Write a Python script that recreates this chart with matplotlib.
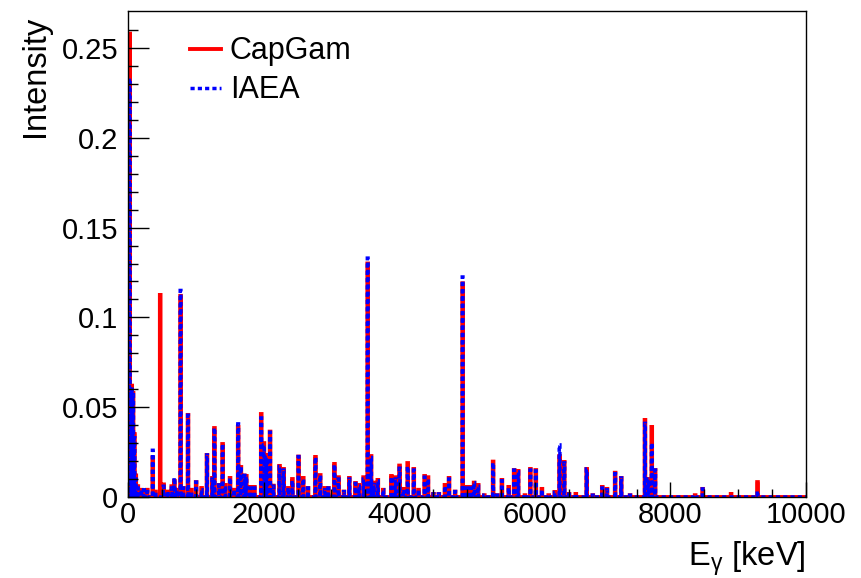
import matplotlib
matplotlib.use("Agg")
import matplotlib.pyplot as plt
from matplotlib.lines import Line2D
import numpy as np

plt.rcParams['font.family'] = ['Liberation Sans', 'DejaVu Sans']
plt.rcParams['mathtext.fontset'] = 'custom'
plt.rcParams['mathtext.rm'] = 'Liberation Sans'

# gamma lines: energy [keV], CapGam intensity, IAEA intensity
energia = [20, 50, 70, 90, 110, 140, 190, 230, 280, 360, 400, 478, 520, 580, 640, 680,
           720, 778, 810, 880, 930, 1000, 1080, 1160, 1245, 1275, 1340, 1395, 1430, 1505,
           1560, 1620, 1665, 1715, 1745, 1800, 1860, 1960, 2005, 2045, 2095, 2145, 2230,
           2290, 2365, 2425, 2512, 2585, 2650, 2760, 2830, 2900, 2950, 3040, 3100, 3180,
           3265, 3350, 3400, 3470, 3535, 3585, 3620, 3685, 3765, 3880, 3940, 4000, 4060,
           4125, 4215, 4280, 4370, 4420, 4500, 4580, 4675, 4735, 4820, 4937, 4995, 5050,
           5105, 5165, 5250, 5380, 5440, 5512, 5610, 5695, 5757, 5850, 5930, 6013, 6100,
           6200, 6298, 6362, 6430, 6500, 6600, 6765, 6850, 6996, 7060, 7183, 7272, 7400,
           7626, 7675, 7724, 7773, 8363, 8476, 8890, 9288]
capgam = [0.258, 0.062, 0.058, 0.035, 0.012, 0.006, 0.004, 0.003, 0.004, 0.022, 0.003, 0.1125,
          0.007, 0.003, 0.006, 0.009, 0.004, 0.112, 0.005, 0.0457, 0.004, 0.0083, 0.005,
          0.0234, 0.0106, 0.0384, 0.0067, 0.0295, 0.0067, 0.0106, 0.004, 0.039, 0.0167,
          0.012, 0.0117, 0.0056, 0.0056, 0.0462, 0.030, 0.0234, 0.0364, 0.0063, 0.0173,
          0.0156, 0.005, 0.010, 0.0225, 0.0106, 0.005, 0.0223, 0.0122, 0.005, 0.005, 0.0184,
          0.011, 0.003, 0.0106, 0.0078, 0.0067, 0.011, 0.130, 0.0228, 0.008, 0.0095, 0.004,
          0.0117, 0.011, 0.0175, 0.0045, 0.0189, 0.0156, 0.004, 0.0117, 0.011, 0.0017,
          0.0017, 0.0067, 0.0106, 0.003, 0.119, 0.0056, 0.0056, 0.008, 0.0067, 0.001,
          0.0197, 0.001, 0.0095, 0.0056, 0.015, 0.0145, 0.001, 0.0156, 0.015, 0.0045, 0.001,
          0.0028, 0.0228, 0.0195, 0.0017, 0.0017, 0.0156, 0.001, 0.0056, 0.0045, 0.0135,
          0.0106, 0.001, 0.0429, 0.010, 0.039, 0.015, 0.001, 0.0045, 0.0017, 0.0083]
iaea = [0.233, 0.060, 0.057, 0.033, 0.010, 0.005, 0.004, 0.004, 0.003, 0.026, 0.003, 0.0,
        0.006, 0.003, 0.005, 0.0106, 0.004, 0.115, 0.005, 0.0455, 0.003, 0.0083, 0.004,
        0.0234, 0.010, 0.0384, 0.0067, 0.0295, 0.006, 0.0106, 0.004, 0.0407, 0.0167,
        0.012, 0.0117, 0.005, 0.005, 0.044, 0.029, 0.022, 0.036, 0.006, 0.017,
        0.015, 0.005, 0.009, 0.0225, 0.010, 0.005, 0.022, 0.012, 0.004, 0.005, 0.018,
        0.010, 0.003, 0.010, 0.0075, 0.006, 0.010, 0.133, 0.022, 0.007, 0.009, 0.004,
        0.011, 0.010, 0.016, 0.004, 0.017, 0.015, 0.004, 0.011, 0.010, 0.0017,
        0.0017, 0.006, 0.010, 0.003, 0.1225, 0.005, 0.005, 0.008, 0.006, 0.001,
        0.019, 0.001, 0.009, 0.005, 0.015, 0.014, 0.001, 0.015, 0.0145, 0.004, 0.001,
        0.0025, 0.029, 0.019, 0.0015, 0.0015, 0.0156, 0.001, 0.005, 0.004, 0.013,
        0.0106, 0.001, 0.041, 0.010, 0.030, 0.015, 0.001, 0.0045, 0.0, 0.0033]

bordi = np.arange(0, 10001, 10)
h_capgam, _ = np.histogram(energia, bins=bordi, weights=capgam)
h_iaea, _ = np.histogram(energia, bins=bordi, weights=iaea)

fig = plt.figure(figsize=(8.61, 5.78), dpi=100)
ax = fig.add_axes([128/861, 81/578, 678/861, 486/578])

ax.stairs(h_capgam, bordi, color='#ff0000', lw=2.8)
ax.stairs(h_iaea, bordi, color='#0000ff', lw=2.5, linestyle=(0, (1.2, 0.9)))

ax.set_xlim(0, 10000)
ax.set_ylim(0, 0.2706)
ax.set_xticks([0, 2000, 4000, 6000, 8000, 10000])
ax.set_xticks(np.arange(0, 10001, 500), minor=True)
ax.set_yticks([0, 0.05, 0.1, 0.15, 0.2, 0.25])
ax.set_yticklabels(['0', '0.05', '0.1', '0.15', '0.2', '0.25'])
ax.set_yticks(np.arange(0, 0.27, 0.01), minor=True)
ax.tick_params(axis='both', which='both', direction='in', labelsize=21, width=1,
               top=False, right=False)
ax.tick_params(axis='x', which='major', length=11, pad=3)
ax.tick_params(axis='x', which='minor', length=6)
ax.tick_params(axis='y', which='major', length=15, pad=7)
ax.tick_params(axis='y', which='minor', length=7)
for s in ax.spines.values():
    s.set_linewidth(1)

fig.text(35/861, 1 - 16/578, 'Intensity', rotation=90, ha='center', va='top', fontsize=23.5)
fig.text(806/861, 13/578, r'E$_\mathregular{γ}$ [keV]', ha='right', va='baseline', fontsize=23.5)

maniglie = [Line2D([], [], color='#ff0000', lw=2.8),
            Line2D([], [], color='#0000ff', lw=2.5, linestyle=(0, (1.2, 0.9)))]
ax.legend(maniglie, ['CapGam', 'IAEA'], loc='upper left', bbox_to_anchor=(0.0914, 0.948),
          frameon=False, fontsize=22, handlelength=1.0, handletextpad=0.3,
          labelspacing=0.3, borderpad=0, borderaxespad=0)

fig.savefig('out.png', dpi=100)
